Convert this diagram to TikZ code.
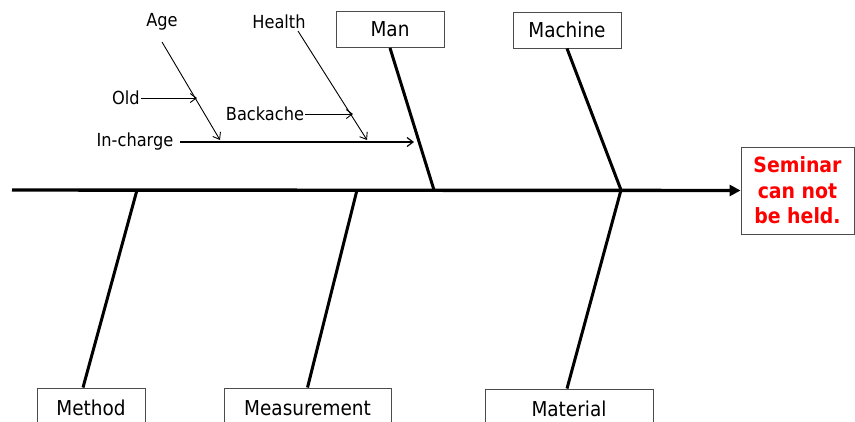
\documentclass[tikz,border=0pt]{standalone}
\usepackage{fontspec}
\setmainfont{DejaVu Sans Condensed}
\usetikzlibrary{arrows.meta}
\begin{document}
\begin{tikzpicture}[x=1pt,y=-1pt,
  catbox/.style={draw=black!70,line width=0.9pt,fill=white,minimum width=108pt,minimum height=36pt,inner sep=0pt,font=\fontsize{20.5}{24}\selectfont},
  lbl/.style={inner sep=1pt,font=\fontsize{18}{21}\selectfont},
  spine/.style={line width=3.4pt,-{Triangle[length=11pt,width=11pt]}},
  bone/.style={line width=3pt},
  subline/.style={line width=1.8pt,-{Straight Barb[length=6pt,width=9pt,line width=1.2pt]}},
  thin/.style={line width=0.9pt,-{Straight Barb[length=6pt,width=9pt,line width=0.9pt]}}]
\useasboundingbox (0,0) rectangle (855,421);
\fill[white] (0,0) rectangle (855,421);
% effect
\node[draw=black!70,line width=0.9pt,minimum width=113pt,minimum height=87pt,inner sep=0pt,align=center,text=red,
  font=\fontsize{21}{25.5}\selectfont\bfseries] (effect) at (797.5,190.5) {Seminar\\can not\\be held.};
% category boxes
\node[catbox] (man) at (390,29.5) {Man};
\node[catbox] (machine) at (567,30) {Machine};
\node[catbox,minimum height=40pt] (method) at (91,408) {Method};
\node[catbox,minimum width=167pt,minimum height=40pt] (measure) at (307.5,408) {Measurement};
\node[catbox,minimum width=168pt,minimum height=40pt] (material) at (569,409) {Material};
% spine
\coordinate (tail) at (12,190);
\draw[spine] (tail) -- (effect.west);
% junctions on spine
\coordinate (jman) at (434,190);
\coordinate (jmach) at (621,190);
\coordinate (jmeth) at (137,190);
\coordinate (jmeas) at (357,190);
\draw[bone] (man.south) -- (jman);
\draw[bone] (machine.south) -- (jmach);
\draw[bone] (jmeth) -- ([xshift=-8pt]method.north);
\draw[bone] (jmeas) -- (measure.north);
\draw[bone] (jmach) -- ([xshift=-2pt]material.north);
% sub causes
\node[lbl] (age) at (162,22) {Age};
\node[lbl] (health) at (279,22) {Health};
\node[lbl] (old) at (126,98) {Old};
\node[lbl] (back) at (265,114) {Backache};
\node[lbl] (incharge) at (135,142) {In-charge};
\coordinate (ie) at (414,142);
\coordinate (agetop) at (162,42);
\coordinate (ageend) at (220,140);
\coordinate (htop) at (298,31);
\coordinate (hend) at (367,140);
\coordinate (oldend) at (197,98);
\coordinate (backend) at (353,114);
\draw[subline] ([xshift=6pt]incharge.east) -- (ie);
\draw[thin] (agetop) -- (ageend);
\draw[thin] (htop) -- (hend);
\draw[thin] (old.east) -- (oldend);
\draw[thin] (back.east) -- (backend);
\end{tikzpicture}
\end{document}
